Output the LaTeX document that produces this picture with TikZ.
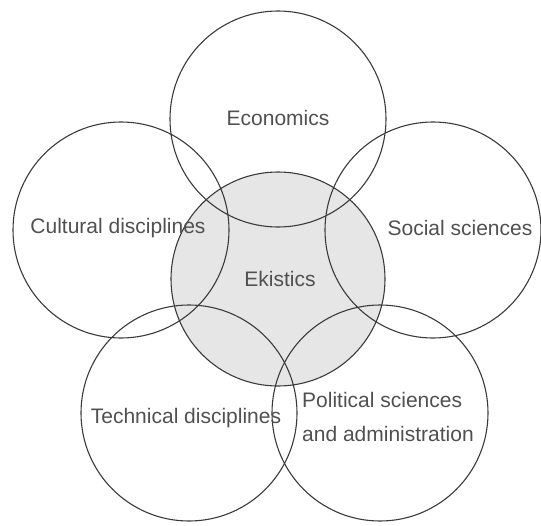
\documentclass[tikz,border=0pt]{standalone}
\usepackage{fontspec}
\setmainfont{Liberation Sans}
\definecolor{linecol}{HTML}{3A3A3A}
\definecolor{txtcol}{HTML}{505050}
\definecolor{fillcol}{HTML}{E6E6E6}
\begin{document}
\begin{tikzpicture}[x=1pt,y=-1pt,
  ring/.style={circle,draw=linecol,line width=1.1pt,minimum size=216pt,inner sep=0pt},
  lab/.style={text=txtcol,font=\fontsize{21}{34}\selectfont,inner sep=0pt}]
\useasboundingbox (0,0) rectangle (541,525);
\node[ring,fill=fillcol,minimum size=214pt] (eki) at (278,279) {};
\node[ring] (eco) at (278,119) {};
\node[ring] (cul) at (121,230) {};
\node[ring] (soc) at (433,230) {};
\node[ring] (tec) at (189,413) {};
\node[ring] (pol) at (380,413) {};
\node[lab] (teco) at (278,118) {Economics};
\node[lab] (teki) at (280,279) {Ekistics};
\node[lab] (tcul) at (118,228) {Cultural disciplines};
\node[lab] (tsoc) at (460,228) {Social sciences};
\node[lab] (ttec) at (186,418) {Technical disciplines};
\node[lab,align=left,anchor=west] (tpol) at (302,417) {Political sciences\\and administration};
\end{tikzpicture}
\end{document}
